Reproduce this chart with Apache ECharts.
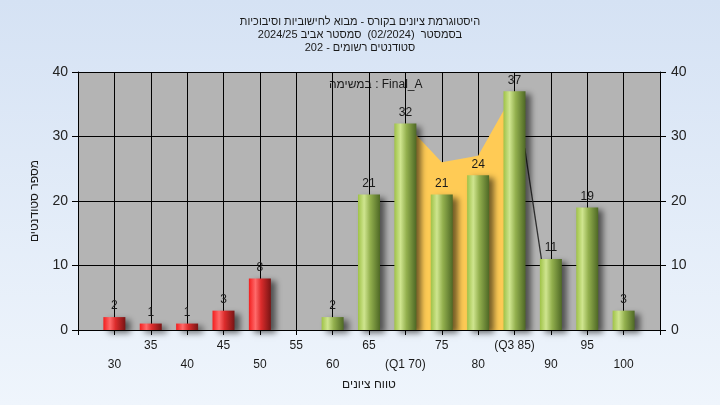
<!DOCTYPE html>
<html>
<head>
<meta charset="utf-8">
<script src="https://cdn.jsdelivr.net/npm/echarts@6/dist/echarts.min.js"></script>
<style>
html,body{margin:0;padding:0;}
#chart{width:720px;height:405px;}
</style>
</head>
<body>
<div id="chart"></div>
<script>
// ---- data ----
const categories = [30, 35, 40, 45, 50, 55, 60, 65, 70, 75, 80, 85, 90, 95, 100];
const counts     = [2, 1, 1, 3, 8, 0, 2, 21, 32, 21, 24, 37, 11, 19, 3];
const tickLabels = ['30','35','40','45','50','55','60','65','(Q1 70)','75','80','(Q3 85)','90','95','100'];
const iqrX = [70, 75, 80, 85];
const iqrY = [32, 26, 27, 37];
const lineX = [86.4, 88.7];
const lineY = [28.2, 11];
const yTicks = [0, 10, 20, 30, 40];
const titleLines = [
  'היסטוגרמת ציונים בקורס - מבוא לחישוביות וסיבוכיות',
  'בסמסטר  (02/2024)  סמסטר אביב 2024/25',
  'סטודנטים רשומים - 202'
];
const taskLabel = 'במשימה : Final_A';
const xName = 'טווח ציונים';
const yName = 'מספר סטודנטים';
const failLimit = 50;

// ---- chart ----
const FONT = '"Liberation Sans", "DejaVu Sans", sans-serif';
const redGrad = new echarts.graphic.LinearGradient(0, 0, 1, 0, [
  {offset: 0, color: '#f21e1e'},
  {offset: 0.3, color: '#ff6a6a'},
  {offset: 0.55, color: '#dc2c2c'},
  {offset: 1, color: '#781414'}
]);
const greenGrad = new echarts.graphic.LinearGradient(0, 0, 1, 0, [
  {offset: 0, color: '#9fc247'},
  {offset: 0.28, color: '#cfe58f'},
  {offset: 0.55, color: '#93b04e'},
  {offset: 1, color: '#4e6825'}
]);

const barData = categories.map((c, i) => ({
  value: [c, counts[i]],
  itemStyle: {color: c <= failLimit ? redGrad : greenGrad}
}));

const chart = echarts.init(document.getElementById('chart'), null, {renderer: 'canvas'});
chart.setOption({
  animation: false,
  backgroundColor: new echarts.graphic.LinearGradient(0, 0, 0, 1, [
    {offset: 0, color: '#d5e2f4'},
    {offset: 1, color: '#eff5fc'}
  ]),
  textStyle: {fontFamily: FONT},
  title: {
    text: titleLines.join('\n'),
    left: 'center',
    top: 10,
    textStyle: {fontSize: 11, fontWeight: 'normal', color: '#1a1a1a', lineHeight: 13, fontFamily: FONT}
  },
  graphic: [{
    type: 'text',
    left: 329,
    top: 79,
    style: {text: taskLabel, font: '12px ' + FONT, fill: '#1a1a1a'}
  }],
  grid: {
    left: 78, right: 60, top: 72, bottom: 75,
    show: true, backgroundColor: '#b4b4b4', borderWidth: 0
  },
  xAxis: {
    type: 'value',
    min: 25, max: 105, interval: 5,
    name: xName,
    nameLocation: 'middle',
    nameGap: 43,
    nameTextStyle: {fontSize: 12, color: '#1a1a1a', fontFamily: FONT},
    axisLine: {show: true, lineStyle: {color: '#000', width: 1}},
    axisTick: {show: true, length: 5, lineStyle: {color: '#000'}},
    splitLine: {show: true, lineStyle: {color: '#000', width: 1}},
    axisLabel: {
      margin: 6,
      fontSize: 12,
      lineHeight: 19,
      color: '#1a1a1a',
      showMinLabel: true,
      showMaxLabel: true,
      formatter: function (v) {
        const i = categories.indexOf(v);
        if (i < 0) return '';
        return (v % 10 === 0 ? '\n' : '') + tickLabels[i];
      }
    }
  },
  yAxis: [{
    type: 'value',
    position: 'left',
    min: yTicks[0], max: yTicks[yTicks.length - 1], interval: 10,
    name: yName,
    nameLocation: 'middle',
    nameGap: 37,
    nameTextStyle: {fontSize: 12, color: '#1a1a1a', fontFamily: FONT},
    axisLine: {show: true, lineStyle: {color: '#000', width: 1}},
    axisTick: {show: true, length: 6, lineStyle: {color: '#000'}},
    splitLine: {show: true, lineStyle: {color: '#000', width: 1}},
    axisLabel: {margin: 10, fontSize: 14, color: '#222'}
  }, {
    type: 'value',
    position: 'right',
    min: yTicks[0], max: yTicks[yTicks.length - 1], interval: 10,
    axisLine: {show: true, lineStyle: {color: '#000', width: 1}},
    axisTick: {show: true, length: 6, lineStyle: {color: '#000'}},
    splitLine: {show: false},
    axisLabel: {margin: 11, fontSize: 14, color: '#222'}
  }],
  series: [{
    type: 'line',
    z: 1,
    data: iqrX.map((x, i) => [x, iqrY[i]]),
    symbol: 'none',
    lineStyle: {width: 0},
    areaStyle: {color: '#ffcb55', opacity: 1},
    silent: true
  }, {
    type: 'line',
    z: 1,
    data: lineX.map((x, i) => [x, lineY[i]]),
    symbol: 'none',
    lineStyle: {color: '#303030', width: 1.3},
    silent: true
  }, {
    type: 'bar',
    z: 5,
    barWidth: 22,
    data: barData,
    itemStyle: {
      shadowColor: 'rgba(0,0,0,0.55)',
      shadowBlur: 6,
      shadowOffsetX: 5,
      shadowOffsetY: 3
    },
    label: {
      show: true,
      position: 'top',
      distance: 5,
      fontSize: 12,
      color: '#1a1a1a',
      fontFamily: FONT,
      formatter: p => (p.value[1] > 0 ? String(p.value[1]) : '')
    }
  }]
});
</script>
</body>
</html>
